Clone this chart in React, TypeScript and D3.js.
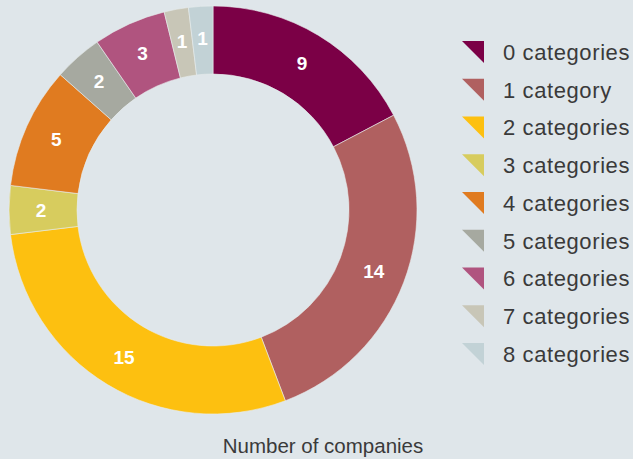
import React from "react";
import * as d3 from "d3";

const categories = ["0 categories", "1 category", "2 categories", "3 categories", "4 categories", "5 categories", "6 categories", "7 categories", "8 categories"];
const values = [9, 14, 15, 2, 5, 2, 3, 1, 1];
const colors = ["#7b0046", "#b06060", "#fdc010", "#d7cc5e", "#e07b20", "#a6a9a0", "#b0547f", "#c8c6b7", "#c2d2d6"];
const title = "Number of companies";

const W = 633, H = 459;
const BG = "#dfe6ea";

export default function App() {
  const cx = 213, cy = 210, rOuter = 204, rInner = 136;
  const pie = d3.pie<number>().sort(null).value((d) => d);
  const arcs = pie(values);
  const arcGen = d3.arc<d3.PieArcDatum<number>>().innerRadius(rInner).outerRadius(rOuter);
  const labelArc = d3.arc<d3.PieArcDatum<number>>().innerRadius(rInner + 4).outerRadius(rOuter);
  const legendY = d3.scalePoint<string>().domain(categories).range([52, 354]);
  return (
    <svg width={W} height={H} style={{ position: "fixed", left: 0, top: 0, display: "block" }}>
      <rect width={W} height={H} fill={BG} />
      <g transform={`translate(${cx},${cy})`}>
        {arcs.map((a, i) => (
          <path key={i} d={arcGen(a) || ""} fill={colors[i]} stroke="#e8ecec" strokeWidth={0.6} />
        ))}
        {arcs.map((a, i) => {
          const [x, y] = labelArc.centroid(a);
          return (
            <text key={"l" + i} x={x} y={y} dy="0.36em" textAnchor="middle" fill="#fff" fontFamily="Liberation Sans, Arial, sans-serif" fontWeight="bold" fontSize={19}>
              {values[i]}
            </text>
          );
        })}
      </g>
      {categories.map((c, i) => {
        const y = legendY(c)!;
        return (
          <g key={"lg" + i} transform={`translate(462,${y - 11})`}>
            <path d="M0,0 L22,0 L22,22 Z" fill={colors[i]} />
            <text x={41} y={11} dy="0.36em" fill="#3a3a3a" fontFamily="Liberation Sans, Arial, sans-serif" fontSize={22} letterSpacing={0.6}>
              {c}
            </text>
          </g>
        );
      })}
      <text x={323} y={446} dy="0.36em" textAnchor="middle" fill="#3a3a3a" fontFamily="Liberation Sans, Arial, sans-serif" fontSize={20.5}>
        {title}
      </text>
    </svg>
  );
}
